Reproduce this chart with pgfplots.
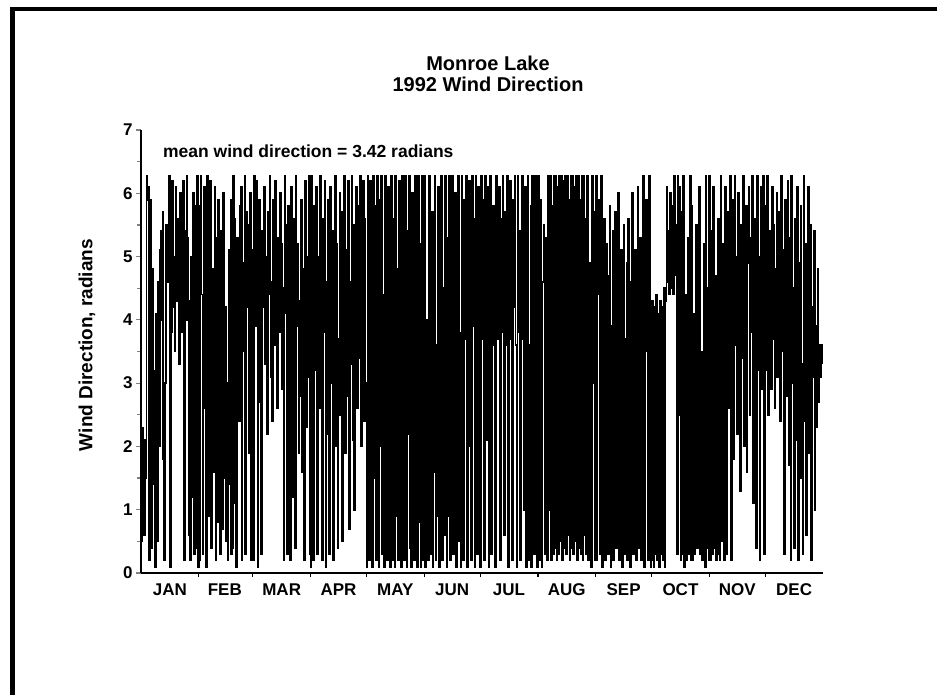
\documentclass[border=0pt]{standalone}
\usepackage{fontspec}
\setmainfont{Liberation Sans}
\usepackage{pgfplots}
\usepackage{pgfplotstable}
\pgfplotsset{compat=1.18}
\pgfplotstableread[row sep=\\]{
dir\\
0.5\\ 2.3\\ 1.2\\ 0.6\\ 2.1\\ 1.5\\ 6.28\\ 5.9\\ 6.1\\ 0.2\\
5.9\\ 0.4\\ 4.8\\ 1.4\\ 3.2\\ 0.1\\ 4.1\\ 0.5\\ 4.6\\ 2.0\\
5.1\\ 5.4\\ 4.0\\ 5.7\\ 1.8\\ 0.2\\ 3.0\\ 5.5\\ 5.3\\ 4.6\\
6.28\\ 0.1\\ 3.8\\ 6.2\\ 4.2\\ 5.0\\ 3.5\\ 6.1\\ 4.3\\ 5.6\\
4.4\\ 3.3\\ 6.0\\ 3.8\\ 4.5\\ 6.2\\ 0.2\\ 5.4\\ 4.0\\ 6.28\\
5.3\\ 0.6\\ 4.3\\ 0.2\\ 5.0\\ 1.2\\ 6.0\\ 0.3\\ 5.8\\ 0.4\\
6.28\\ 0.1\\
0.2\\ 5.8\\ 6.28\\ 4.4\\ 0.3\\ 5.2\\ 6.1\\ 2.6\\ 0.1\\ 6.28\\
5.0\\ 0.9\\ 6.2\\ 0.4\\ 4.8\\ 1.6\\ 2.9\\ 6.1\\ 0.2\\ 5.3\\
0.8\\ 5.9\\ 3.6\\ 0.3\\ 5.4\\ 0.7\\ 6.0\\ 1.5\\ 4.2\\ 0.5\\
3.0\\ 0.2\\ 5.1\\ 1.4\\ 5.9\\ 0.3\\ 0.4\\ 6.28\\ 5.6\\ 1.1\\
0.1\\ 5.3\\ 4.6\\ 2.4\\ 5.8\\ 6.1\\ 0.2\\ 4.9\\ 3.5\\ 6.28\\
0.3\\ 5.7\\ 4.2\\ 5.5\\ 1.9\\ 6.0\\ 0.2\\ 5.1\\
0.2\\ 6.28\\ 5.1\\ 3.9\\ 6.2\\ 0.1\\ 4.8\\ 5.9\\ 2.7\\ 0.3\\
5.4\\ 4.2\\ 6.1\\ 3.3\\ 5.0\\ 2.2\\ 5.7\\ 4.4\\ 6.28\\ 3.1\\
4.6\\ 2.4\\ 5.9\\ 3.6\\ 6.2\\ 4.0\\ 2.6\\ 5.3\\ 3.8\\ 6.0\\
5.2\\ 2.9\\ 4.5\\ 0.2\\ 6.28\\ 5.5\\ 4.1\\ 0.3\\ 5.8\\ 3.4\\
0.2\\ 6.1\\ 4.7\\ 1.2\\ 5.6\\ 0.4\\ 6.28\\ 3.9\\ 5.2\\ 1.9\\
4.3\\ 2.8\\ 5.9\\ 1.6\\ 4.8\\ 0.2\\ 6.2\\ 2.3\\ 5.0\\ 3.1\\
6.28\\ 0.3\\
0.1\\ 6.28\\ 4.4\\ 0.2\\ 5.8\\ 3.2\\ 6.1\\ 0.3\\ 5.0\\ 2.6\\
6.28\\ 4.1\\ 0.2\\ 5.6\\ 3.8\\ 6.2\\ 0.1\\ 4.6\\ 2.2\\ 5.9\\
0.3\\ 6.1\\ 3.0\\ 5.4\\ 0.2\\ 4.9\\ 6.28\\ 2.0\\ 5.2\\ 0.4\\
3.7\\ 6.0\\ 2.5\\ 5.7\\ 0.5\\ 4.3\\ 6.28\\ 1.9\\ 5.1\\ 2.8\\
6.2\\ 0.7\\ 4.6\\ 3.3\\ 6.28\\ 2.1\\ 5.5\\ 1.0\\ 4.0\\ 6.1\\
2.6\\ 5.8\\ 3.4\\ 6.28\\ 2.0\\ 4.9\\ 6.2\\ 2.4\\ 5.6\\ 3.0\\
0.1\\ 6.28\\ 2.6\\ 0.2\\ 6.2\\ 4.1\\ 0.1\\ 6.28\\ 1.5\\ 5.8\\
0.2\\ 6.28\\ 3.7\\ 0.1\\ 5.9\\ 2.0\\ 6.28\\ 0.3\\ 4.4\\ 0.1\\
6.28\\ 1.8\\ 0.2\\ 6.1\\ 3.2\\ 0.1\\ 6.28\\ 2.4\\ 0.2\\ 5.6\\
0.1\\ 6.28\\ 0.9\\ 4.8\\ 0.2\\ 6.2\\ 1.5\\ 0.1\\ 6.28\\ 3.0\\
0.2\\ 6.28\\ 1.1\\ 0.1\\ 5.4\\ 2.2\\ 6.28\\ 0.4\\ 0.1\\ 6.0\\
1.7\\ 0.2\\ 6.28\\ 3.9\\ 0.1\\ 6.28\\ 0.8\\ 5.2\\ 0.1\\ 6.28\\
2.7\\ 0.2\\
6.28\\ 0.1\\ 4.0\\ 1.0\\ 0.2\\ 6.28\\ 1.3\\ 0.3\\ 5.7\\ 0.1\\
1.6\\ 6.28\\ 0.2\\ 3.6\\ 0.9\\ 6.1\\ 0.1\\ 1.4\\ 6.28\\ 0.2\\
4.5\\ 0.6\\ 6.28\\ 1.9\\ 0.1\\ 5.3\\ 0.9\\ 6.28\\ 0.2\\ 3.4\\
6.28\\ 0.3\\ 1.7\\ 6.0\\ 0.1\\ 4.2\\ 6.28\\ 0.5\\ 3.8\\ 0.1\\
6.28\\ 2.6\\ 0.2\\ 5.9\\ 3.7\\ 6.28\\ 0.1\\ 4.3\\ 6.2\\ 2.0\\
0.2\\ 6.28\\ 3.9\\ 5.6\\ 0.1\\ 6.28\\ 4.1\\ 0.3\\ 6.1\\ 3.6\\
0.1\\ 6.28\\ 3.7\\ 5.9\\ 0.2\\ 6.28\\ 4.3\\ 2.1\\ 6.1\\ 0.1\\
3.8\\ 6.28\\ 0.3\\ 4.4\\ 5.8\\ 3.6\\ 0.1\\ 6.28\\ 4.2\\ 3.7\\
6.1\\ 0.2\\ 5.6\\ 3.8\\ 6.28\\ 4.3\\ 0.6\\ 5.7\\ 3.6\\ 6.28\\
0.1\\ 4.4\\ 6.2\\ 3.7\\ 0.2\\ 5.9\\ 4.2\\ 6.28\\ 3.6\\ 0.1\\
6.28\\ 3.8\\ 5.4\\ 0.2\\ 4.3\\ 6.28\\ 3.7\\ 1.0\\ 6.1\\ 0.1\\
4.4\\ 6.28\\ 0.2\\ 3.6\\ 5.8\\ 0.1\\ 6.28\\ 4.2\\ 0.3\\ 6.28\\
3.7\\ 0.1\\
6.28\\ 0.2\\ 5.9\\ 3.7\\ 0.1\\ 4.6\\ 5.5\\ 0.3\\ 4.8\\ 5.3\\
0.2\\ 6.28\\ 1.0\\ 6.28\\ 0.2\\ 5.8\\ 0.3\\ 6.28\\ 0.4\\ 6.28\\
0.2\\ 6.1\\ 0.3\\ 6.28\\ 0.5\\ 6.28\\ 0.2\\ 6.2\\ 0.4\\ 6.28\\
0.3\\ 6.28\\ 0.6\\ 5.9\\ 0.2\\ 6.28\\ 0.4\\ 6.28\\ 0.3\\ 6.1\\
0.5\\ 6.28\\ 0.2\\ 6.28\\ 0.4\\ 5.9\\ 0.3\\ 6.28\\ 0.2\\ 6.28\\
0.6\\ 5.6\\ 0.3\\ 6.28\\ 0.2\\ 4.9\\ 3.6\\ 0.1\\ 6.28\\ 3.0\\
5.7\\ 0.2\\
6.28\\ 0.2\\ 4.4\\ 5.9\\ 0.3\\ 3.8\\ 6.28\\ 0.1\\ 4.9\\ 5.6\\
0.2\\ 5.2\\ 3.6\\ 0.3\\ 4.7\\ 5.8\\ 0.1\\ 3.9\\ 5.4\\ 0.2\\
4.3\\ 5.7\\ 0.4\\ 3.4\\ 6.0\\ 0.2\\ 4.6\\ 5.1\\ 0.1\\ 4.0\\
5.5\\ 0.3\\ 3.7\\ 4.9\\ 0.2\\ 5.6\\ 4.1\\ 0.1\\ 4.6\\ 6.0\\
0.3\\ 3.9\\ 5.1\\ 0.2\\ 4.4\\ 6.1\\ 0.4\\ 3.6\\ 5.3\\ 0.2\\
4.7\\ 6.28\\ 0.1\\ 3.5\\ 5.9\\ 4.0\\ 0.2\\ 6.28\\ 4.3\\ 0.1\\
0.2\\ 4.3\\ 0.1\\ 4.2\\ 0.3\\ 4.4\\ 0.2\\ 4.1\\ 0.1\\ 4.3\\
0.3\\ 4.2\\ 0.2\\ 4.5\\ 0.1\\ 4.3\\ 6.1\\ 4.6\\ 5.4\\ 4.4\\
6.0\\ 4.5\\ 5.8\\ 4.4\\ 6.28\\ 4.7\\ 5.5\\ 0.3\\ 6.28\\ 2.5\\
6.1\\ 0.2\\ 5.7\\ 0.3\\ 6.28\\ 0.1\\ 4.4\\ 0.2\\ 1.2\\ 5.3\\
0.3\\ 6.28\\ 0.2\\ 5.8\\ 0.2\\ 4.1\\ 0.3\\ 1.5\\ 5.5\\ 0.4\\
0.6\\ 6.1\\ 0.3\\ 3.5\\ 0.2\\ 0.8\\ 5.2\\ 0.1\\ 6.28\\ 0.4\\
4.5\\ 0.2\\
6.28\\ 0.2\\ 5.4\\ 0.3\\ 6.1\\ 0.4\\ 4.7\\ 0.2\\ 1.0\\ 5.6\\
0.3\\ 0.2\\ 6.28\\ 0.5\\ 0.5\\ 5.2\\ 0.2\\ 6.1\\ 0.3\\ 4.8\\
5.7\\ 2.6\\ 6.28\\ 0.2\\ 4.4\\ 5.9\\ 1.8\\ 6.28\\ 3.6\\ 5.0\\
2.2\\ 6.0\\ 4.1\\ 1.3\\ 5.5\\ 3.4\\ 6.28\\ 2.0\\ 4.7\\ 5.8\\
1.6\\ 4.9\\ 6.1\\ 2.5\\ 5.3\\ 3.8\\ 6.28\\ 1.1\\ 4.2\\ 5.6\\
0.4\\ 6.28\\ 3.2\\ 5.0\\ 0.2\\ 6.1\\ 2.9\\ 4.6\\ 6.28\\ 0.3\\
5.8\\ 3.2\\ 6.28\\ 2.5\\ 5.4\\ 4.1\\ 2.9\\ 6.1\\ 3.7\\ 5.5\\
2.6\\ 4.8\\ 6.0\\ 3.1\\ 5.7\\ 4.3\\ 2.4\\ 6.28\\ 3.5\\ 5.1\\
0.3\\ 5.9\\ 2.8\\ 4.6\\ 6.2\\ 1.7\\ 5.3\\ 0.2\\ 6.28\\ 3.0\\
4.5\\ 0.4\\ 5.6\\ 2.1\\ 6.1\\ 0.2\\ 4.9\\ 1.5\\ 5.8\\ 3.3\\
0.3\\ 6.28\\ 2.4\\ 5.2\\ 0.6\\ 4.4\\ 6.1\\ 1.9\\ 5.5\\ 0.2\\
4.2\\ 3.1\\ 5.4\\ 1.0\\ 3.9\\ 2.3\\ 4.8\\ 2.7\\ 3.6\\ 3.1\\
3.6\\ 3.3\\
}\winddata
\begin{document}
\begin{tikzpicture}[x=1pt,y=1pt]
\path[use as bounding box] (0,0) rectangle (937,695);
\draw[line width=4.5pt] (12.5,0) -- (12.5,686) -- (937,686);
\begin{axis}[
  at={(141pt,122pt)}, anchor=south west,
  scale only axis, width=682pt, height=443pt,
  xmin=0, xmax=366, ymin=0, ymax=7,
  axis lines=left,
  axis line style={-, line width=1.2pt},
  tick align=outside,
  ytick={0,1,2,3,4,5,6,7},
  minor y tick num=1,
  xtick={15.5,45,75.5,106,136.5,167,197.5,228.5,259,289.5,320,350.5},
  xticklabels={JAN,FEB,MAR,APR,MAY,JUN,JUL,AUG,SEP,OCT,NOV,DEC},
  minor xtick={31,60,91,121,152,182,213,244,274,305,335},
  x tick style={draw=none},
  minor x tick style={draw=black, line width=1.2pt},
  y tick style={line width=1.2pt},
  major tick length=5pt, minor tick length=4pt,
  tick label style={font=\bfseries\fontsize{17}{20}\selectfont},
  /pgf/number format/assume math mode=true,
  xticklabel style={yshift=-2pt},
  clip=false,
]
\addplot[const plot, black, line width=1.8pt] table[x expr=\coordindex*0.5, y index=0] {\winddata};
\node[anchor=west, font=\bfseries\fontsize{17.5}{20}\selectfont] at (axis cs:10,6.67) {mean wind direction = 3.42 radians};
\end{axis}
\node[align=center, font=\bfseries\fontsize{20}{21}\selectfont] at (488,621) {Monroe Lake\\1992 Wind Direction};
\node[rotate=90, font=\bfseries\fontsize{19}{20}\selectfont] at (87,350) {Wind Direction, radians};
\end{tikzpicture}
\end{document}
